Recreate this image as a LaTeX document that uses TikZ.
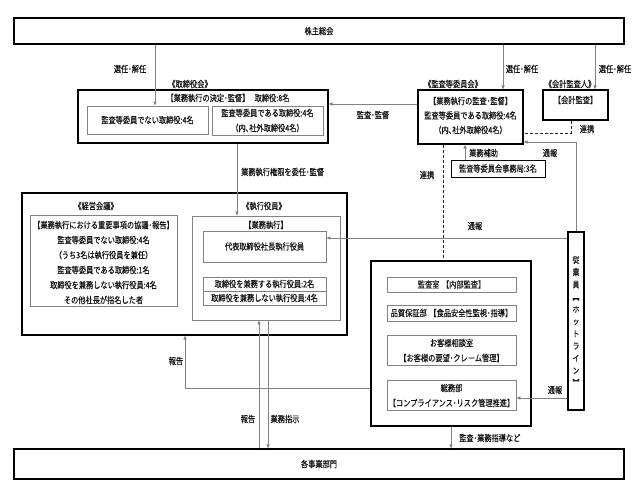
\documentclass[tikz,border=0pt]{standalone}
\usepackage{fontspec}
\setmainfont{Noto Sans CJK JP}[FakeStretch=0.8, FakeBold=0.3]
\usetikzlibrary{arrows.meta}
\definecolor{lgray}{RGB}{130,130,130}
\definecolor{txt}{RGB}{20,20,20}
\tikzset{
  every node/.style={font=\fontsize{9}{10}\selectfont, text=txt, inner sep=0pt},
  outerbox/.style={draw=black, line width=1.2pt, rectangle},
  innerbox/.style={draw=lgray, line width=0.9pt, rectangle, align=center},
  conn/.style={draw=lgray, line width=0.8pt},
  arr/.style={conn, -{Triangle[length=4pt,width=3.2pt]}},
  dashline/.style={draw=black!85, line width=0.9pt, dash pattern=on 3pt off 2pt},
  lbl/.style={align=center},
}
\begin{document}
\begin{tikzpicture}[x=1pt,y=-1pt]
\useasboundingbox (0,0) rectangle (638,495);
% helper coordinates
\coordinate (x155) at (155,0);
\coordinate (x503) at (503,0);
\coordinate (x595) at (595,0);
\coordinate (x571) at (571,0);
\coordinate (x465) at (465,0);
\coordinate (x443) at (443,0);
\coordinate (x237) at (237,0);
\coordinate (x185) at (185,0);
\coordinate (x259) at (259,0);
\coordinate (x268) at (268,0);
\coordinate (y104) at (0,104);
\coordinate (y133) at (0,133);
\coordinate (y142) at (0,142);
\coordinate (y238) at (0,238);
\coordinate (y388) at (0,388);
\coordinate (y398) at (0,398);

% boxes
\node[outerbox, minimum width=610pt, minimum height=26pt] (share) at (319,31) {株主総会};
\node[outerbox, minimum width=250pt, minimum height=53pt] (tb) at (203,116.5) {};
\node[innerbox, minimum width=121pt, minimum height=28pt] (tb1) at (147.5,120) {監査等委員でない取締役:4名};
\node[innerbox, minimum width=111pt, minimum height=29pt, font=\fontsize{9}{15}\selectfont] (tb2) at (267.5,120.5) {監査等委員である取締役:4名\\（内､社外取締役4名）};
\node[outerbox, minimum width=105pt, minimum height=54pt] (ac) at (470.5,117) {};
\node[outerbox, minimum width=65pt, minimum height=30pt] (ca) at (575.5,105) {};
\node[outerbox, line width=1pt, minimum width=94pt, minimum height=17pt] (sec) at (498,168.5) {監査等委員会事務局:3名};
\node[outerbox, minimum width=325pt, minimum height=142pt] (big) at (184.5,264) {};
\node[innerbox, minimum width=147pt, minimum height=91pt] (km) at (103.5,260.5) {};
\node[innerbox, minimum width=148pt, minimum height=104pt] (ex) at (266,268) {};
\node[innerbox, minimum width=123pt, minimum height=31pt] (ceo) at (264.5,246.5) {代表取締役社長執行役員};
\node[innerbox, minimum width=123pt, minimum height=14pt] (exa) at (264.5,284) {取締役を兼務する執行役員:2名};
\node[innerbox, minimum width=123pt, minimum height=14pt] (exb) at (264.5,298) {取締役を兼務しない執行役員:4名};
\node[outerbox, minimum width=160pt, minimum height=165pt] (aud) at (451,343.5) {};
\node[innerbox, minimum width=129pt, minimum height=15pt] (a1) at (451.5,284.5) {監査室\hspace{0.3em}【内部監査】};
\node[innerbox, minimum width=129pt, minimum height=16pt] (a2) at (451.5,313) {品質保証部\hspace{0.3em}【食品安全性監視･指導】};
\node[innerbox, minimum width=129pt, minimum height=30pt, font=\fontsize{9}{15}\selectfont] (a3) at (451.5,350.5) {お客様相談室\\【お客様の要望･クレーム管理】};
\node[innerbox, minimum width=129pt, minimum height=30pt, font=\fontsize{9}{15}\selectfont] (a4) at (451.5,395.5) {総務部\\【コンプライアンス･リスク管理推進】};
\node[outerbox, minimum width=16pt, minimum height=178pt] (emp) at (576,321) {};
\node[outerbox, minimum width=610pt, minimum height=30pt] (div) at (319,464) {各事業部門};

% texts inside boxes
\node (tbt) at (228,98) {【業務執行の決定･監督】\hspace{0.6em}取締役:8名};
\node[lbl, font=\fontsize{9}{14.5}\selectfont] (act) at (470.5,115.5) {【業務執行の監査･監督】\\監査等委員である取締役:4名\\（内､社外取締役4名）};
\node (cat) at (575.5,100) {【会計監査】};
\node[lbl, font=\fontsize{9}{15}\selectfont] (kmt) at (103.5,262.5) {【業務執行における重要事項の協議･報告】\\監査等委員でない取締役:4名\\（うち3名は執行役員を兼任）\\監査等委員である取締役:1名\\取締役を兼務しない執行役員:4名\\その他社長が指名した者};
\node (ext) at (266,225) {【業務執行】};
\node[lbl, font=\fontsize{8.5}{12.3}\selectfont] (empt) at (576,321) {従\\業\\員\\︻\\ホ\\ッ\\ト\\ラ\\イ\\ン\\︼};

% titles
\node (tbl) at (190,84) {《取締役会》};
\node (acl) at (453,84) {《監査等委員会》};
\node (cal) at (570,84) {《会計監査人》};
\node (kml) at (96,206) {《経営会議》};
\node (exl) at (264,206) {《執行役員》};

% connectors
\draw[arr] (x155 |- share.south) -- (x155 |- tb1.north);
\draw[arr] (x503 |- share.south) -- (x503 |- ac.north);
\draw[arr] (x595 |- share.south) -- (x595 |- ca.north);
\draw[arr] (ac.west |- y104) -- (tb.east |- y104);
\draw[dashline] (x571 |- ca.south) |- (ac.east |- y133);
\draw[arr] (emp.north) |- (ac.east |- y142);
\draw[arr] (x465 |- sec.north) -- (x465 |- ac.south);
\draw[dashline] (x443 |- ac.south) -- (x443 |- aud.north);
\draw[arr] (x237 |- tb.south) -- (x237 |- ex.north);
\draw[arr] (emp.west |- y238) -- (ceo.east |- y238);
\draw[arr] (emp.west |- y398) -- (a4.east |- y398);
\draw[arr] (aud.west |- y388) -| (x185 |- big.south);
\draw[arr] (x259 |- div.north) -- (x259 |- ex.south);
\draw[arr] (x268 |- ex.south) -- (x268 |- div.north);
\draw[arr] (aud.south) -- (aud.south |- div.north);

% connector labels
\node (l1) at (130,69) {選任･解任};
\node (l2) at (522,69) {選任･解任};
\node (l3) at (615,69) {選任･解任};
\node (l4) at (373,115) {監査･監督};
\node (l5) at (587,129) {連携};
\node (l6) at (550,153) {通報};
\node[anchor=west] (l7) at (469,153) {業務補助};
\node (l8) at (427,175) {連携};
\node[anchor=west] (l9) at (241,172) {業務執行権限を委任･監督};
\node (l10) at (475,226) {通報};
\node (l11) at (555,390) {通報};
\node (l12) at (176,361) {報告};
\node (l13) at (248,419) {報告};
\node (l14) at (285,419) {業務指示};
\node[anchor=west] (l15) at (459,438) {監査･業務指導など};
\end{tikzpicture}
\end{document}
